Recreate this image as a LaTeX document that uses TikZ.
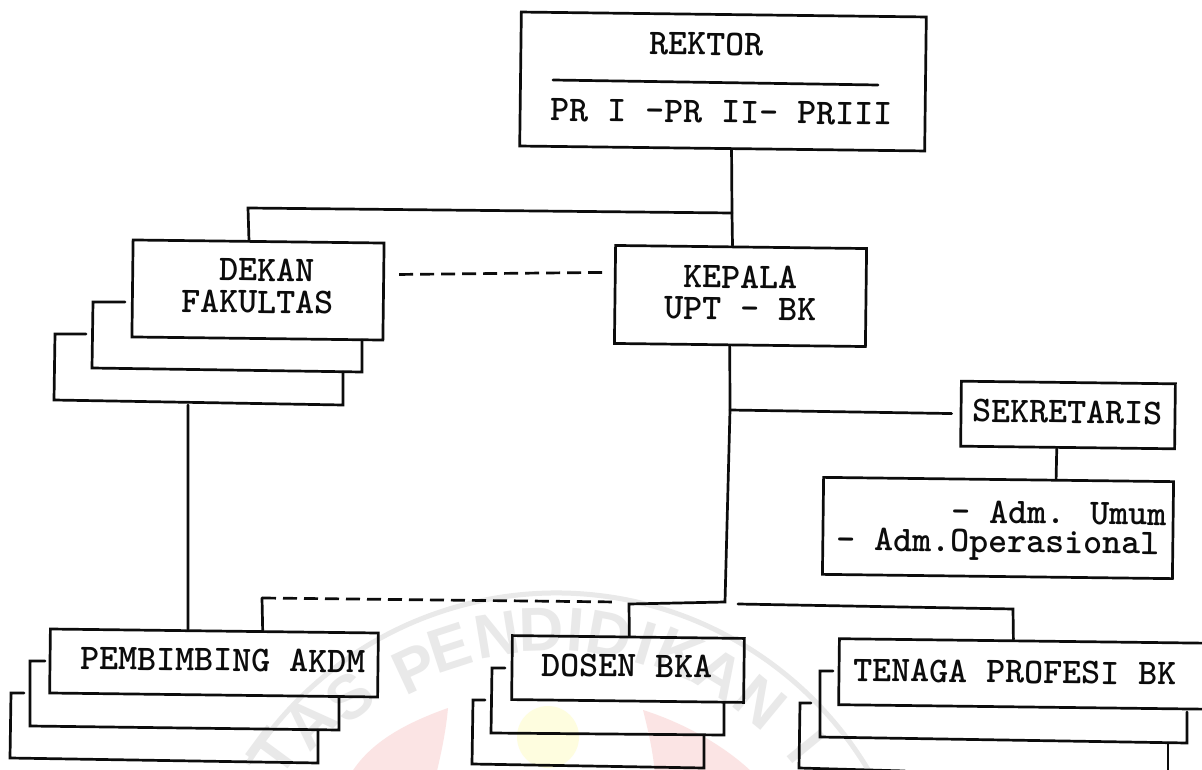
\documentclass[tikz,border=0pt]{standalone}
\usepackage{fontspec}
\setsansfont{Liberation Sans}
\usetikzlibrary{calc}
\definecolor{wmgray}{HTML}{E9E9E9}
\definecolor{wmred}{HTML}{FBE4E4}
\definecolor{wmyellow}{HTML}{FEFDDF}
\definecolor{inkc}{HTML}{0C0C0C}
\tikzset{
  ink/.style={draw=inkc,line width=2.7pt,line join=miter,line cap=round},
  orgbox/.style={ink,rectangle,inner sep=0pt,rotate=-0.7},
  backbox/.style={ink},
  link/.style={ink},
  dashlink/.style={ink,line cap=butt,dash pattern=on 14pt off 7pt},
  lbl/.style={inner sep=0pt,rotate=-0.7,text=inkc,font=\ttfamily\bfseries\fontsize{36.2}{40}\selectfont},
  wmletter/.style={inner sep=0pt,text=wmgray,font=\sffamily\bfseries\fontsize{62}{62}\selectfont},
}
\begin{document}
\begin{tikzpicture}[x=1pt,y=-1pt]
\useasboundingbox (0,0) rectangle (1202,770);
\clip (0,0) rectangle (1202,770);
\fill[white] (0,0) rectangle (1202,770);
% watermark
\coordinate (wmc) at (550,957);
\coordinate (wmd) at (556,957);
\draw[wmgray,line width=5pt] (wmd) ++(-148:364) arc (-148:-30:364);
\fill[wmred] (448,708) .. controls (400,725) and (368,745) .. (350,775) -- (436,775) .. controls (442,750) and (446,730) .. (448,708) -- cycle;
\fill[wmred] (643,710) .. controls (690,725) and (730,750) .. (755,775) -- (655,775) .. controls (653,750) and (648,730) .. (643,710) -- cycle;
\fill[wmyellow] (548,737) circle (31);
\foreach \ang/\rad/\ch/\i in {-53.6/344/T/1,-45.7/335/A/2,-37.5/328/S/3,-25/318/P/4,-18/325/E/5,-9.3/326/N/6,-1.5/328/D/7,4.5/328/I/8,10.5/328/D/9,17/328/I/10,23/330/K/11,31/330/A/12,39.6/330/N/13,50.7/332/I/14}{
  \node[wmletter,rotate=-\ang] (wm\i) at ($(wmc)+(\ang-90:\rad)$) {\ch};
}
% front boxes
\node[orgbox,minimum width=405pt,minimum height=134pt] (rektor) at (723,81.5) {};
\node[orgbox,minimum width=251pt,minimum height=97pt] (dekan) at (258,290) {};
\node[orgbox,minimum width=251pt,minimum height=98pt] (kepala) at (740.5,296) {};
\node[orgbox,minimum width=214pt,minimum height=65pt] (sekretaris) at (1068,415) {};
\node[orgbox,minimum width=350pt,minimum height=97pt] (adm) at (998,528) {};
\node[orgbox,minimum width=328pt,minimum height=64pt] (pembimbing) at (214,663) {};
\node[orgbox,minimum width=232pt,minimum height=64pt] (dosen) at (628,669) {};
\node[orgbox,minimum width=376pt,minimum height=66pt] (tenaga) at (1027,674) {};
% stacked back sheets
\draw[backbox] (125,302) -- (93,302) -- (92,368) -- (362,372) -- (362,340);
\draw[backbox] (86,334) -- (55,334) -- (54,400) -- (343,405) -- (343,372);
\draw[backbox] (45,661) -- (30,661) -- (30,726) -- (339,730) -- (339,697);
\draw[backbox] (24,693) -- (11,693) -- (10,758) -- (318,763) -- (318,730);
\draw[backbox] (505,668) -- (492,668) -- (491,733) -- (724,735) -- (724,703);
\draw[backbox] (485,700) -- (473,700) -- (472,764) -- (704,768) -- (704,736);
\draw[backbox] (833,671) -- (820,671) -- (820,737) -- (1187,743) -- (1187,712);
\draw[backbox] (811,703) -- (800,703) -- (799,768) -- (905,771);
\draw[backbox] (1168,743) -- (1168,775);
% rule in the top box
\coordinate (ruleL) at (553,80);
\coordinate (ruleR) at (878,85);
\draw[link] (ruleL) -- (ruleR);
% junctions
\coordinate (j1) at (732,213);
\coordinate (j1b) at (248,208);
\coordinate (j2) at (730,410);
\coordinate (j3) at (725,602);
\coordinate (j3b) at (629,604);
\coordinate (j4) at (738,604);
\coordinate (j4b) at (1013,609);
\coordinate (j5) at (262,598);
\coordinate (j5b) at (618,602);
\coordinate (d3) at (188,405);
% connectors
\draw[link] ($(rektor.south west)!.523!(rektor.south east)$) -- (j1) -- ($(kepala.north west)!.466!(kepala.north east)$);
\draw[link] (j1) -- (j1b) -- ($(dekan.north west)!.462!(dekan.north east)$);
\draw[dashlink,shorten <=14pt,shorten >=10pt] ($(dekan.north east)!.33!(dekan.south east)$) -- ($(kepala.north west)!.28!(kepala.south west)$);
\draw[link] ($(kepala.south west)!.46!(kepala.south east)$) -- (j2) -- (j3) -- (j3b) -- ($(dosen.north west)!.504!(dosen.north east)$);
\draw[link,shorten >=8pt] (j2) -- (sekretaris.west);
\draw[link] ($(sekretaris.south west)!.45!(sekretaris.south east)$) -- ($(adm.north west)!.663!(adm.north east)$);
\draw[link] (j4) -- (j4b) -- ($(tenaga.north west)!.463!(tenaga.north east)$);
\draw[link] (d3) -- ($(pembimbing.north west)!.42!(pembimbing.north east)$);
\draw[link] ($(pembimbing.north west)!.646!(pembimbing.north east)$) -- (j5);
\draw[dashlink] (j5) -- (j5b);
% labels
\node[lbl] (t1) at (707,44) {REKTOR};
\node[lbl] (t2) at (722,112) {PR I -PR II- PRIII};
\node[lbl] (t3) at (267,270) {DEKAN};
\node[lbl] (t4) at (258,302) {FAKULTAS};
\node[lbl] (t5) at (741,277) {KEPALA};
\node[lbl] (t6) at (741,309) {UPT - BK};
\node[lbl] (t7) at (1068,412) {SEKRETARIS};
\node[lbl] (t8) at (1059,513) {- Adm. Umum};
\node[lbl] (t9) at (998,545) {- Adm.Operasional};
\node[lbl] (t10) at (223,660) {PEMBIMBING AKDM};
\node[lbl] (t11) at (627,666) {DOSEN BKA};
\node[lbl] (t12) at (1015,672) {TENAGA PROFESI BK};
\end{tikzpicture}
\end{document}
